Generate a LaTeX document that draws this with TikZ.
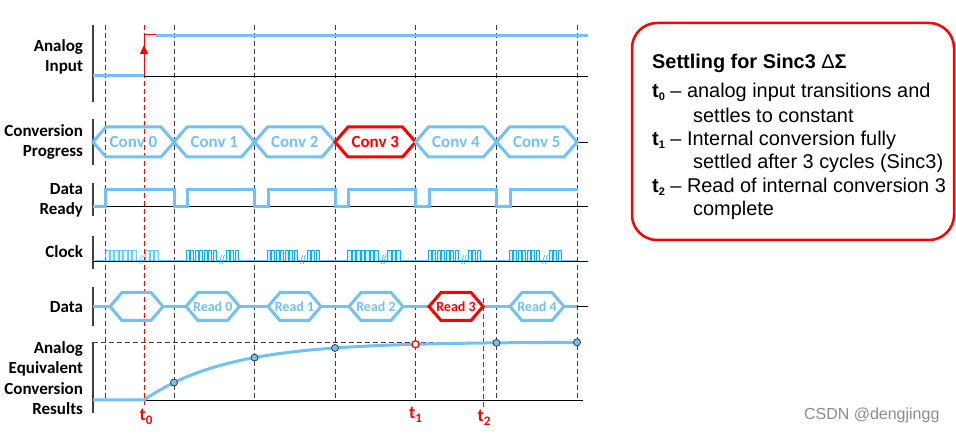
\documentclass[tikz,border=0pt]{standalone}
\usepackage{fontspec}
\setmainfont{Carlito}
\newfontfamily\arialf{Liberation Sans}
\usetikzlibrary{arrows.meta}
\definecolor{sig}{RGB}{115,192,245}
\definecolor{clk}{RGB}{20,175,235}
\definecolor{clkfill}{RGB}{205,236,252}
\definecolor{dotline}{RGB}{60,60,60}
\newcommand\hexa[6]{\draw[#6] (#1,#3) -- ({#1+#5},{#3-#4}) -- ({#2-#5},{#3-#4}) -- (#2,#3) -- ({#2-#5},{#3+#4}) -- ({#1+#5},{#3+#4}) -- cycle;}
\newcommand\clkburst[2]{%
  \begin{scope}[opacity=#2]
    \foreach \k in {0,...,6} {\draw[clk, fill=clkfill, line width=0.6pt] ({#1+4.5*\k},261) -- ({#1+4.5*\k},250) -- ({#1+4.5*\k+3.2},250) -- ({#1+4.5*\k+3.2},261);}
    \foreach \k in {0,1,2} {\draw[clk, fill=clkfill, line width=0.6pt] ({#1+40+4.5*\k},261) -- ({#1+40+4.5*\k},250) -- ({#1+40+4.5*\k+3.2},250) -- ({#1+40+4.5*\k+3.2},261);}
    \draw[clk, line width=0.6pt] ({#1+33.5},264) .. controls ({#1+35.5},262) and ({#1+33.5},258) .. ({#1+36},255);
    \draw[clk, line width=0.6pt] ({#1+36},264) .. controls ({#1+38},262) and ({#1+36},258) .. ({#1+38.5},255);
  \end{scope}}
\tikzset{
  grid/.style={dotline, line width=0.7pt, dash pattern=on 5pt off 3pt},
  redgrid/.style={red, line width=0.7pt, dash pattern=on 5pt off 3pt},
  base/.style={black, line width=0.8pt},
  bar/.style={black!75, line width=1.2pt},
  wave/.style={sig, line width=3pt},
  redwave/.style={red, line width=3pt},
  lbl/.style={font=\bfseries\fontsize{17}{20.3}\selectfont, align=right, anchor=east},
  convtxt/.style={text=sig, font=\bfseries\fontsize{17}{17}\selectfont},
  readtxt/.style={text=sig, font=\bfseries\fontsize{14}{14}\selectfont},
  tlbl/.style={text=red, font=\bfseries\fontsize{18}{18}\selectfont},
  boxtxt/.style={font=\arialf\fontsize{19.9}{19.9}\selectfont, anchor=west, inner sep=0pt},
  dot/.style={draw=dotline, fill=sig, line width=0.8pt},
}
\begin{document}
\begin{tikzpicture}[x=1pt,y=-1pt]
\useasboundingbox (0,0) rectangle (956,435);

% vertical grid lines
\foreach \gx in {105,174,254.5,335,415.5,496.5,577} {\draw[grid] (\gx,25) -- (\gx,400);}
\draw[redgrid] (144,25) -- (144,405);
\draw[redgrid] (483,298) -- (483,408);

% left bars
\draw[bar] (93,25) -- (93,102);
\draw[bar] (93,119) -- (93,165);
\draw[bar] (93,183) -- (93,216);
\draw[bar] (93,236) -- (93,269);
\draw[bar] (93,287) -- (93,326);
\draw[bar] (93,342) -- (93,413);

% labels
\node[lbl] (lai) at (86.5,57) {Analog\\Input};
\node[lbl] (lcp) at (86.5,142) {Conversion\\Progress};
\node[lbl] (ldr) at (86.5,200) {Data\\Ready};
\node[lbl] (lck) at (86.5,252) {Clock};
\node[lbl] (lda) at (86.5,307) {Data};
\node[lbl] (lae) at (86.5,378) {Analog\\Equivalent\\Conversion\\Results};

% Analog input
\draw[base] (144,76) -- (588,76);
\draw[wave] (93,76) -- (144,76);
\draw[wave] (156,36) -- (588,36);
\draw[red, line width=1pt] (144,76) -- (144,35) -- (156,35);
\draw[red, line width=1pt, -{Triangle[length=9pt,width=8pt]}] (144,76) -- (144,45);

% Conversion progress
\draw[base] (577,142) -- (588,142);
\hexa{93}{174}{142}{15}{13}{wave}
\hexa{174}{254.5}{142}{15}{13}{wave}
\hexa{254.5}{335}{142}{15}{13}{wave}
\hexa{335}{415.5}{142}{15}{13}{redwave}
\hexa{415.5}{496.5}{142}{15}{13}{wave}
\hexa{496.5}{577}{142}{15}{13}{wave}
\node[convtxt] (c0) at (133.5,142) {Conv 0};
\node[convtxt] (c1) at (214.3,142) {Conv 1};
\node[convtxt] (c2) at (294.8,142) {Conv 2};
\node[convtxt, text=red] (c3) at (375.3,142) {Conv 3};
\node[convtxt] (c4) at (456,142) {Conv 4};
\node[convtxt] (c5) at (536.8,142) {Conv 5};

% Data ready
\draw[base] (93,206.5) -- (588,206.5);
\draw[wave, line join=miter] (93,206.5) -- (105,206.5) -- (105,190) -- (174,190) -- (174,206.5) -- (187,206.5) -- (187,190)
  -- (254.5,190) -- (254.5,206.5) -- (268,206.5) -- (268,190)
  -- (335,190) -- (335,206.5) -- (348.5,206.5) -- (348.5,190)
  -- (415.5,190) -- (415.5,206.5) -- (429,206.5) -- (429,190)
  -- (496.5,190) -- (496.5,206.5) -- (510,206.5) -- (510,190) -- (578,190);

% Clock
\draw[base] (93,261) -- (588,261);
\draw[sig, line width=1pt] (93,261) -- (577,261);
\clkburst{105.7}{0.6}
\clkburst{186}{1}
\clkburst{267}{1}
\clkburst{347.7}{1}
\clkburst{428}{1}
\clkburst{509}{1}

% Data
\draw[base] (577,306.5) -- (588,306.5);
\draw[wave] (93,306.5) -- (110,306.5);
\draw[wave] (163,306.5) -- (186,306.5);
\draw[wave] (239.5,306.5) -- (268,306.5);
\draw[wave] (321,306.5) -- (349,306.5);
\draw[wave] (403,306.5) -- (429,306.5);
\draw[wave] (483,306.5) -- (510,306.5);
\draw[wave] (564,306.5) -- (577,306.5);
\hexa{110}{163}{306.5}{14}{12}{wave}
\hexa{186}{239.5}{306.5}{14}{12}{wave}
\hexa{268}{321}{306.5}{14}{12}{wave}
\hexa{349}{403}{306.5}{14}{12}{wave}
\hexa{429}{483}{306.5}{14}{12}{redwave}
\hexa{510}{564}{306.5}{14}{12}{wave}
\node[readtxt] (r0) at (212.8,306.5) {Read 0};
\node[readtxt] (r1) at (294.5,306.5) {Read 1};
\node[readtxt] (r2) at (376,306.5) {Read 2};
\node[readtxt, text=red] (r3) at (456,306.5) {Read 3};
\node[readtxt] (r4) at (537,306.5) {Read 4};

% Analog equivalent
\draw[grid] (93,342.3) -- (577,342.3);
\draw[base] (93,400.3) -- (583,400.3);
\draw[wave] (93,400) -- (144,400) -- plot[domain=144:577, samples=80] (\x, {400-58*(1-exp(-(\x-144)/84))});
\foreach \gx in {174,254.5,335,496.5,577} {\fill[dot] (\gx, {400-58*(1-exp(-(\gx-144)/84))}) circle (3.5pt);}
\draw[red, fill=white, line width=1.3pt] (415.5, {400-58*(1-exp(-(415.5-144)/84))}) circle (3.5pt);

% t labels
\node[tlbl] (t0) at (146,417) {t{\fontsize{13}{13}\selectfont\raisebox{-4pt}{0}}};
\node[tlbl] (t1) at (415.5,415) {t{\fontsize{13}{13}\selectfont\raisebox{-4pt}{1}}};
\node[tlbl] (t2) at (484,418) {t{\fontsize{13}{13}\selectfont\raisebox{-4pt}{2}}};

% Info box
\draw[red, line width=2.5pt, rounded corners=25pt] (632,23) rectangle (954,240);
\node[boxtxt] (b0) at (652,63) {\bfseries Settling for Sinc3 {\mdseries Δ}Σ};
\node[boxtxt] (b1) at (652,92) {\textbf{t}{\bfseries\fontsize{11}{11}\selectfont\raisebox{-3pt}{0}} – analog input transitions and};
\node[boxtxt] (b2) at (693,115) {settles to constant};
\node[boxtxt] (b3) at (652,140) {\textbf{t}{\bfseries\fontsize{11}{11}\selectfont\raisebox{-3pt}{1}} – Internal conversion fully};
\node[boxtxt] (b4) at (693,163) {settled after 3 cycles (Sinc3)};
\node[boxtxt] (b5) at (652,187) {\textbf{t}{\bfseries\fontsize{11}{11}\selectfont\raisebox{-3pt}{2}} – Read of internal conversion 3};
\node[boxtxt] (b6) at (693,210) {complete};

% watermark
\node[font=\arialf\fontsize{16}{16}\selectfont, text=black!45, anchor=east] (wm) at (943,415) {CSDN @dengjingg};
\end{tikzpicture}
\end{document}
